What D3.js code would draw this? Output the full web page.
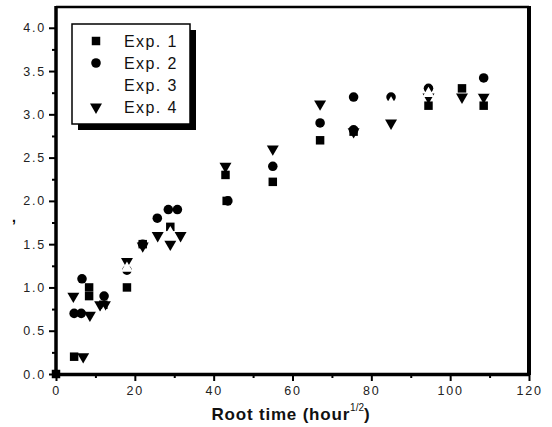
<!DOCTYPE html>
<html><head><meta charset="utf-8">
<script src="https://cdn.jsdelivr.net/npm/d3@7"></script>
<style>body{margin:0;background:#fff}svg{display:block}</style>
</head><body>
<script>
// ---- data ----
const seriesNames = ["Exp. 1", "Exp. 2", "Exp. 3", "Exp. 4"];
const exp1 = [[0,0],[4.6,0.2],[8.4,1.0],[8.4,0.9],[12,0.8],[18,1.0],[22,1.5],[29,1.7],[43,2.3],[43.3,2.0],[55,2.22],[67,2.7],[75.5,2.8],[94.5,3.1],[103,3.3],[108.5,3.1]];
const exp2 = [[6.6,1.1],[4.6,0.7],[6.4,0.7],[12.2,0.9],[18,1.2],[22,1.5],[25.7,1.8],[28.5,1.9],[30.8,1.9],[43.6,2.0],[55,2.4],[67,2.9],[75.5,3.2],[75.5,2.82],[85,3.2],[94.5,3.3],[108.5,3.42]];
const exp3 = [[12,0.7],[18,1.22],[29,1.63],[85,3.13],[94.5,3.24],[108.5,3.28]];
const exp4 = [[4.4,0.9],[6.9,0.2],[8.6,0.68],[11.2,0.8],[12.4,0.8],[18,1.3],[22,1.48],[25.8,1.6],[29,1.5],[31.6,1.6],[43,2.4],[55,2.6],[67,3.12],[75.5,2.8],[85,2.9],[94.5,3.2],[103,3.2],[108.5,3.2]];
const xTicks = [0,20,40,60,80,100,120];
const yTicks = [0,0.5,1.0,1.5,2.0,2.5,3.0,3.5,4.0];

const W = 552, H = 427;
const svg = d3.select("body").append("svg").attr("width", W).attr("height", H);
const x = d3.scaleLinear().domain([0,120]).range([56,529]);
const y = d3.scaleLinear().domain([0,4.24]).range([374,7]);

// frame
svg.append("line").attr("x1",x(0)).attr("x2",x(120)).attr("y1",y(4.24)).attr("y2",y(4.24)).attr("stroke","#000").attr("stroke-width",2.5);
svg.append("line").attr("x1",x(120)).attr("x2",x(120)).attr("y1",y(4.24)-1).attr("y2",y(0)+1).attr("stroke","#000").attr("stroke-width",4);

const font = "'Liberation Sans', Arial, sans-serif";
// x axis
const xAxis = d3.axisBottom(x).tickValues(xTicks).tickSize(7).tickSizeOuter(0).tickPadding(5).tickFormat(d3.format("d"));
const gx = svg.append("g").attr("transform",`translate(0,${y(0)})`).call(xAxis);
gx.select(".domain").attr("stroke-width",3.5);
gx.selectAll(".tick line").attr("stroke-width",2);
gx.selectAll("text").attr("font-family",font).attr("font-size",12.5).attr("letter-spacing",1.8).attr("fill","#222");
const gxm = svg.append("g").attr("transform",`translate(0,${y(0)})`).call(d3.axisBottom(x).tickValues(d3.range(10,120,20)).tickSize(4).tickSizeOuter(0).tickFormat(""));
gxm.select(".domain").remove(); gxm.selectAll(".tick line").attr("stroke-width",2);

// y axis
const yAxis = d3.axisLeft(y).tickValues(yTicks).tickSize(7).tickSizeOuter(0).tickPadding(3).tickFormat(d3.format(".1f"));
const gy = svg.append("g").attr("transform",`translate(${x(0)},0)`).call(yAxis);
gy.select(".domain").attr("stroke-width",3.5).attr("d",`M0,${y(0)+1.5}V${y(4.24)-1}`);
gy.selectAll(".tick line").attr("stroke-width",2);
gy.selectAll("text").attr("font-family",font).attr("font-size",12.5).attr("letter-spacing",1.8).attr("fill","#222");
const gym = svg.append("g").attr("transform",`translate(${x(0)},0)`).call(d3.axisLeft(y).tickValues(d3.range(0.25,4.2,0.5)).tickSize(4).tickSizeOuter(0).tickFormat(""));
gym.select(".domain").remove(); gym.selectAll(".tick line").attr("stroke-width",2);

// axis titles
const t = svg.append("text").attr("x",291).attr("y",420).attr("text-anchor","middle")
  .attr("font-family",font).attr("font-weight","bold").attr("font-size",17).attr("letter-spacing",0.8).attr("fill","#111");
t.append("tspan").text("Root time (hour");
t.append("tspan").attr("font-size",10).attr("dy",-9).attr("font-weight","normal").attr("letter-spacing",0).text("1/2");
t.append("tspan").attr("dy",9).text(")");
svg.append("text").attr("x",12).attr("y",222).attr("font-family",font).attr("font-weight","bold").attr("font-size",14).text(",");

// markers
const sq = d3.symbol().type(d3.symbolSquare).size(72);
const ci = d3.symbol().type(d3.symbolCircle).size(72);
const tri = d3.symbol().type(d3.symbolTriangle).size(62);
function draw(data, gen, fill, rot) {
  svg.append("g").selectAll("path").data(data).join("path")
    .attr("d", gen)
    .attr("transform", d => `translate(${x(d[0])},${y(d[1])}) rotate(${rot})`)
    .attr("fill", fill);
}
draw(exp1, sq, "#000", 0);
draw(exp2, ci, "#000", 0);
draw(exp4, tri, "#000", 180);
draw(exp3, tri, "#fff", 0);

// legend
const lg = svg.append("g");
lg.append("rect").attr("x",78).attr("y",30).attr("width",118).attr("height",100).attr("fill","#000");
lg.append("rect").attr("x",72).attr("y",24).attr("width",118).attr("height",100).attr("fill","#fff").attr("stroke","#000").attr("stroke-width",1.5);
const gens = [sq, ci, tri, tri], fills = ["#000","#000","#fff","#000"], rots = [0,0,0,180];
seriesNames.forEach((n,i) => {
  const cy = 41 + i*22;
  lg.append("path").attr("d", gens[i]).attr("fill", fills[i]).attr("transform",`translate(96,${cy}) rotate(${rots[i]})`);
  lg.append("text").attr("x",124).attr("y",cy+5.5).attr("font-family",font).attr("font-size",16).attr("letter-spacing",1.4).attr("fill","#111").text(n);
});
</script>
</body></html>
